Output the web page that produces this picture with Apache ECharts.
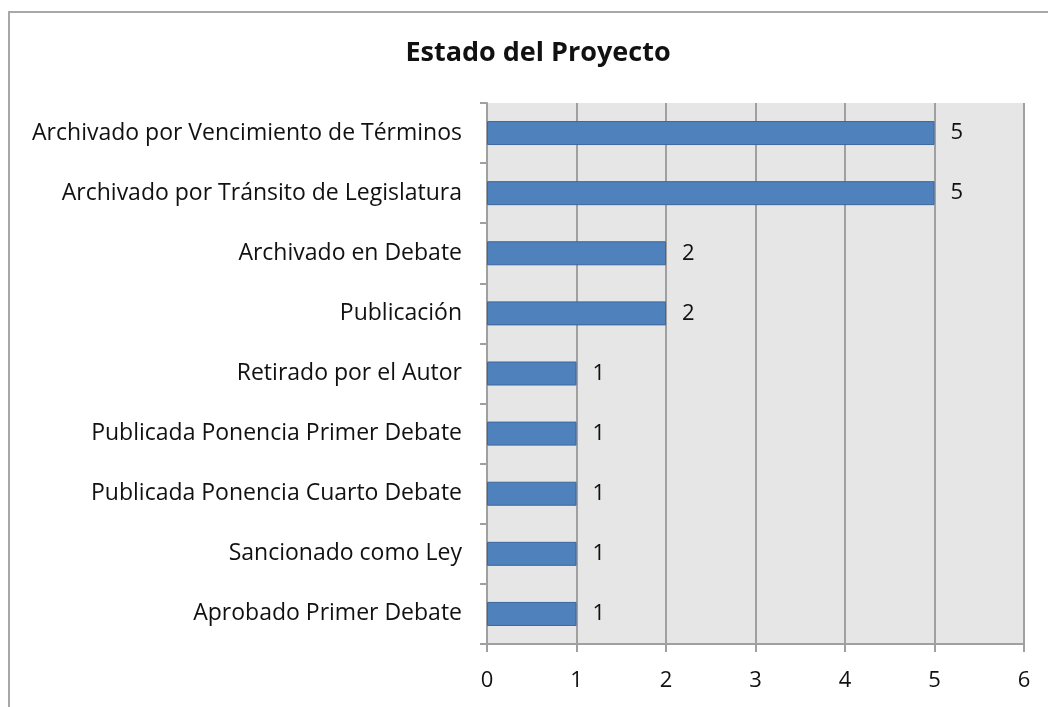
<!DOCTYPE html>
<html>
<head>
<meta charset="utf-8">
<script src="https://cdn.jsdelivr.net/npm/echarts@6/dist/echarts.min.js"></script>
<style>
  html, body { margin: 0; padding: 0; background: #fff; overflow: hidden; }
  #frame { position: absolute; left: 8px; top: 11px; width: 1100px; height: 760px; border: 2px solid #a8a8a8; box-sizing: border-box; }
  #chart { position: absolute; left: 0; top: 0; width: 1048px; height: 707px; }
</style>
</head>
<body>
<div id="frame"></div>
<div id="chart"></div>
<script>
// Estado del Proyecto
const categories = [
    'Archivado por Vencimiento de Términos',
    'Archivado por Tránsito de Legislatura',
    'Archivado en Debate',
    'Publicación',
    'Retirado por el Autor',
    'Publicada Ponencia Primer Debate',
    'Publicada Ponencia Cuarto Debate',
    'Sancionado como Ley',
    'Aprobado Primer Debate'
];
const values = [5, 5, 2, 2, 1, 1, 1, 1, 1];
const xTicks = [0, 1, 2, 3, 4, 5, 6];

const font = '"Open Sans", "Noto Sans", sans-serif';
const chart = echarts.init(document.getElementById('chart'));

chart.setOption({
    animation: false,
    title: {
        text: 'Estado del Proyecto',
        left: 533,
        top: 35,
        textAlign: 'center',
        textStyle: { fontFamily: font, fontSize: 27, fontWeight: 'bold', color: '#111' }
    },
    grid: { left: 487, top: 103, width: 537, height: 541, containLabel: false,
        show: true, backgroundColor: '#e6e6e6', borderWidth: 0 },
    xAxis: {
        type: 'value',
        min: xTicks[0],
        max: xTicks[xTicks.length - 1],
        interval: 1,
        axisLine: { show: true, lineStyle: { color: '#a0a0a0', width: 2 } },
        axisTick: { show: true, length: 8, lineStyle: { color: '#a0a0a0', width: 2 } },
        axisLabel: { margin: 26, fontFamily: font, fontSize: 22, color: '#111' },
        splitLine: { show: true, lineStyle: { color: '#a0a0a0', width: 2 } }
    },
    yAxis: {
        type: 'category',
        data: categories,
        inverse: true,
        axisLine: { show: true, lineStyle: { color: '#a0a0a0', width: 2 } },
        axisTick: { show: true, length: 7, lineStyle: { color: '#a0a0a0', width: 2 } },
        axisLabel: { margin: 25, fontFamily: font, fontSize: 23, color: '#111' },
        splitLine: { show: false }
    },
    series: [{
        type: 'bar',
        data: values,
        barWidth: 24,
        itemStyle: { color: '#4f81bd', borderColor: '#3a679e', borderWidth: 1 },
        label: { show: true, position: 'right', distance: 16, fontFamily: font, fontSize: 22, color: '#111' }
    }]
});
</script>
</body>
</html>
